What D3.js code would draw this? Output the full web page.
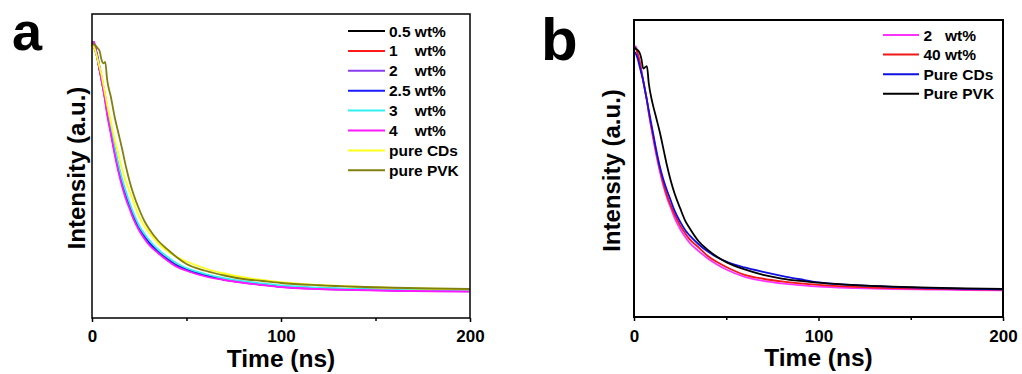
<!DOCTYPE html>
<html>
<head>
<meta charset="utf-8">
<script src="https://cdn.jsdelivr.net/npm/d3@7"></script>
<style>
	body { margin: 0; background: #fff; }
	svg text { font-family: Arial, "Liberation Sans", sans-serif; font-weight: bold; fill: #000; }
	.legendText { white-space: pre; }
</style>
</head>
<body>
<div id="chart"></div>
<script>
// time axis shared by every decay trace (ns)
const times = [0,1,2,3,4,5,6,7,8,10,12,14,16,18,20,22,25,28,30,35,40,45,50,60,70,80,90,100,120,140,160,180,200];

// panel a, normalised intensity
const a05 = [0.99,0.98,0.96,0.93,0.89,0.86,0.82,0.78,0.73,0.65,0.57,0.50,0.44,0.39,0.345,0.305,0.255,0.22,0.20,0.162,0.132,0.107,0.09,0.067,0.051,0.04,0.031,0.023,0.015,0.011,0.008,0.006,0.005];
const a1 = [0.99,0.99,0.96,0.93,0.89,0.85,0.81,0.77,0.72,0.64,0.56,0.49,0.43,0.38,0.34,0.30,0.25,0.215,0.195,0.16,0.13,0.105,0.088,0.065,0.05,0.039,0.03,0.022,0.014,0.01,0.007,0.005,0.004];
const a2 = [1.0,1.0,0.97,0.93,0.89,0.85,0.81,0.77,0.72,0.64,0.56,0.49,0.43,0.38,0.34,0.30,0.25,0.215,0.195,0.158,0.128,0.103,0.087,0.064,0.049,0.038,0.029,0.021,0.013,0.009,0.006,0.004,0.003];
const a25 = [0.99,0.99,0.97,0.94,0.90,0.86,0.82,0.78,0.73,0.65,0.57,0.50,0.44,0.39,0.345,0.305,0.255,0.22,0.20,0.16,0.13,0.105,0.089,0.066,0.05,0.039,0.03,0.022,0.014,0.01,0.007,0.005,0.004];
const a3 = [0.99,0.98,0.96,0.93,0.90,0.86,0.82,0.78,0.74,0.66,0.58,0.51,0.45,0.40,0.355,0.315,0.265,0.23,0.21,0.17,0.14,0.114,0.096,0.072,0.055,0.043,0.034,0.026,0.017,0.012,0.009,0.007,0.006];
const a4 = [0.99,1.0,0.97,0.93,0.89,0.85,0.81,0.76,0.71,0.63,0.55,0.48,0.42,0.37,0.33,0.29,0.245,0.21,0.19,0.155,0.125,0.10,0.085,0.062,0.048,0.037,0.028,0.02,0.012,0.008,0.005,0.003,0.002];
const aCDs = [0.99,0.98,0.96,0.93,0.90,0.87,0.83,0.79,0.75,0.68,0.61,0.55,0.49,0.44,0.40,0.36,0.30,0.26,0.24,0.195,0.163,0.14,0.122,0.094,0.074,0.059,0.048,0.039,0.028,0.021,0.016,0.013,0.011];
const aPVK = [1.0,0.99,0.985,0.975,0.965,0.93,0.915,0.92,0.85,0.78,0.70,0.635,0.57,0.50,0.44,0.39,0.33,0.28,0.255,0.205,0.17,0.138,0.112,0.085,0.066,0.052,0.044,0.036,0.027,0.021,0.017,0.014,0.012];
const aLabels = ["0.5 wt%", "1    wt%", "2    wt%", "2.5 wt%", "3    wt%", "4    wt%", "pure CDs", "pure PVK"];

// panel b
const b2 = [1.0,1.0,0.97,0.94,0.90,0.86,0.82,0.78,0.73,0.64,0.56,0.49,0.43,0.38,0.34,0.30,0.255,0.22,0.20,0.165,0.135,0.11,0.09,0.06,0.043,0.033,0.026,0.02,0.014,0.01,0.008,0.006,0.005];
const b40 = [0.99,0.99,0.97,0.94,0.90,0.86,0.82,0.78,0.73,0.65,0.57,0.50,0.44,0.39,0.35,0.315,0.27,0.235,0.215,0.18,0.145,0.12,0.1,0.068,0.052,0.041,0.033,0.027,0.019,0.014,0.011,0.009,0.008];
const bCDs = [0.98,0.97,0.95,0.92,0.89,0.86,0.82,0.78,0.74,0.66,0.58,0.51,0.455,0.41,0.37,0.33,0.285,0.248,0.23,0.193,0.163,0.14,0.122,0.098,0.08,0.064,0.05,0.037,0.026,0.019,0.014,0.011,0.009];
const bPVK = [1.0,0.99,0.985,0.975,0.95,0.91,0.915,0.92,0.85,0.77,0.71,0.65,0.58,0.51,0.45,0.40,0.34,0.285,0.26,0.205,0.17,0.142,0.12,0.09,0.068,0.053,0.043,0.036,0.026,0.02,0.016,0.013,0.011];
const bLabels = ["2   wt%", "40 wt%", "Pure CDs", "Pure PVK"];

const xTicks = [0, 100, 200],
	xMinorTicks = [50, 150];

const aColors = ['#000000', '#ff1a1a', '#8a3cf0', '#1a1aff', '#33f0f0', '#ff19ff', '#ffff1a', '#808010'];
const bColors = ['#ff33ff', '#f01818', '#1010e0', '#000000'];

const panels = [
	{
		letter: 'a', letterX: 12, letterY: 50, letterSize: 54,
		left: 92, right: 470, top: 14, bottom: 318, y0: 292, y1: 42, frameW: 1.5,
		yLabelX: 85, tickY: 341.5, titleY: 367,
		series: [a05, a1, a2, a25, a3, a4, aCDs, aPVK], labels: aLabels, colors: aColors,
		legend: { x1: 348, x2: 385, tx: 389, y: 31, step: 19.9 }
	},
	{
		letter: 'b', letterX: 541, letterY: 60, letterSize: 60,
		left: 634, right: 1003, top: 20, bottom: 317, y0: 291.5, y1: 46.5, frameW: 2,
		yLabelX: 620, tickY: 341.5, titleY: 366,
		series: [b2, b40, bCDs, bPVK], labels: bLabels, colors: bColors,
		legend: { x1: 883, x2: 919, tx: 923.5, y: 35, step: 19.6 }
	}
];

const svg = d3.select('#chart').append('svg')
	.attr('width', 1022)
	.attr('height', 374);

function drawPanel(p){
	const g = svg.append('g');

	const x = d3.scaleLinear().domain([0, 200]).range([p.left, p.right]);
	const y = d3.scaleLinear().domain([0, 1]).range([p.y0, p.y1]);

	const line = d3.line()
		.x((d, i) => x(times[i]))
		.y(d => y(d))
		.curve(d3.curveMonotoneX);

	//curves, legend order = draw order
	g.selectAll('.trace')
		.data(p.series)
		.join('path')
		.attr('class', 'trace')
		.attr('d', line)
		.attr('fill', 'none')
		.attr('stroke', (d, i) => p.colors[i])
		.attr('stroke-width', 1.8);

	//frame
	g.append('rect')
		.attr('x', p.left)
		.attr('y', p.top)
		.attr('width', p.right - p.left)
		.attr('height', p.bottom - p.top)
		.attr('fill', 'none')
		.attr('stroke', '#000')
		.attr('stroke-width', p.frameW);

	//x axis, major + minor
	const axisG = g.append('g')
		.attr('transform', `translate(0,${p.bottom})`)
		.attr('font-family', null)
		.call(d3.axisBottom(x).tickValues(xTicks).tickSize(4).tickFormat(d3.format('d')));
	axisG.select('.domain').remove();
	axisG.selectAll('.tick line').attr('stroke-width', 1.5);
	axisG.selectAll('.tick text')
		.attr('y', p.tickY - p.bottom)
		.attr('dy', null)
		.attr('font-size', 17);

	const minorG = g.append('g')
		.attr('transform', `translate(0,${p.bottom})`)
		.call(d3.axisBottom(x).tickValues(xMinorTicks).tickSize(3).tickFormat(''));
	minorG.select('.domain').remove();
	minorG.selectAll('.tick line').attr('stroke-width', 1.5);

	//titles
	g.append('text')
		.attr('x', (p.left + p.right) / 2)
		.attr('y', p.titleY)
		.attr('text-anchor', 'middle')
		.attr('font-size', 24.5)
		.text('Time (ns)');

	g.append('text')
		.attr('transform', `translate(${p.yLabelX},${(p.top + p.bottom) / 2 + 2}) rotate(-90)`)
		.attr('text-anchor', 'middle')
		.attr('font-size', 24)
		.text('Intensity (a.u.)');

	g.append('text')
		.attr('x', p.letterX)
		.attr('y', p.letterY)
		.attr('font-size', p.letterSize)
		.text(p.letter);

	//legend
	const lg = g.append('g').attr('class', 'legend');
	const item = lg.selectAll('.legendItem')
		.data(p.labels)
		.join('g')
		.attr('class', 'legendItem')
		.attr('transform', (d, i) => `translate(0,${p.legend.y + i * p.legend.step})`);

	item.append('line')
		.attr('x1', p.legend.x1)
		.attr('x2', p.legend.x2)
		.attr('stroke', (d, i) => p.colors[i])
		.attr('stroke-width', 2);

	item.append('text')
		.attr('class', 'legendText')
		.attr('xml:space', 'preserve')
		.attr('x', p.legend.tx)
		.attr('y', 5.5)
		.attr('font-size', 15.5)
		.text(d => d);
}

panels.forEach(drawPanel);
</script>
</body>
</html>
